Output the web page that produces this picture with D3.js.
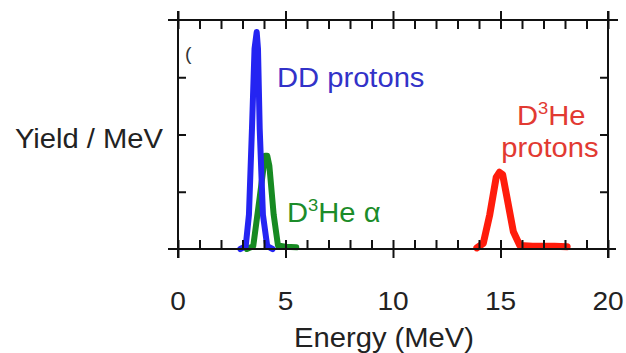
<!DOCTYPE html>
<html>
<head>
<meta charset="utf-8">
<script src="https://cdn.jsdelivr.net/npm/d3@7/dist/d3.min.js"></script>
<style>
  html, body { margin: 0; padding: 0; background: #fff; }
  svg text { font-family: "Liberation Sans", Arial, Helvetica, sans-serif; }
</style>
</head>
<body>
<svg id="chart" width="626" height="353"></svg>
<script>
// Energy spectra of fusion products
const ddEnergy   = [2.9, 3.15, 3.3, 3.44, 3.56, 3.66, 3.72, 3.8, 3.95, 4.15, 4.4];
const ddYield    = [0.0, 0.05, 0.6, 2.1, 3.5, 3.79, 3.5, 2.1, 0.6, 0.05, 0.0];

const alphaEnergy = [3.2, 3.5, 3.8, 4.05, 4.15, 4.25, 4.45, 4.65, 5.0, 5.5];
const alphaYield  = [0.0, 0.05, 0.9, 1.63, 1.63, 1.45, 0.6, 0.06, 0.04, 0.03];

const d3heEnergy = [13.9, 14.2, 14.5, 14.8, 14.95, 15.1, 15.3, 15.6, 15.9, 16.5, 17.0, 17.5, 18.1];
const d3heYield  = [0.02, 0.1, 0.6, 1.25, 1.34, 1.3, 0.9, 0.3, 0.06, 0.05, 0.05, 0.05, 0.04];

const xMajorTicks = [0, 5, 10, 15, 20];
const xMinorTicks = [1, 2, 3, 4, 6, 7, 8, 9, 11, 12, 13, 14, 16, 17, 18, 19];
const yTicks = [1, 2, 3];

const svg = d3.select("#chart");
const plotLeft = 178, plotRight = 608, plotTop = 20, plotBottom = 249;

const x = d3.scaleLinear().domain([0, 20]).range([plotLeft, plotRight]);
const y = d3.scaleLinear().domain([0, 4]).range([plotBottom, plotTop]);

const SX = 1.08; // horizontal stretch of lettering

function label(g, px, py, parts, opts) {
  const t = g.append("text")
    .attr("transform", `translate(${px},${py}) scale(${SX},1)`)
    .attr("font-size", opts.size || 27)
    .attr("fill", opts.color || "#222")
    .attr("text-anchor", opts.anchor || "start");
  let shift = 0;
  parts.forEach(p => {
    const ts = t.append("tspan").text(p.text);
    if (p.sup) {
      ts.attr("dy", -11).attr("font-size", 17);
      shift = 11;
    } else if (shift) {
      ts.attr("dy", shift);
      shift = 0;
    }
  });
  return t;
}

// curves
const line = d3.line().x(d => x(d[0])).y(d => y(d[1])).curve(d3.curveLinear);
const series = [
  { e: alphaEnergy, v: alphaYield, color: "#178a22", w: 6 },
  { e: ddEnergy,    v: ddYield,    color: "#2424f2", w: 6 },
  { e: d3heEnergy,  v: d3heYield,  color: "#ff1c0c", w: 7 }
];
series.forEach(s => {
  svg.append("path")
    .datum(s.e.map((e, i) => [e, s.v[i]]))
    .attr("d", line)
    .attr("fill", "none")
    .attr("stroke", s.color)
    .attr("stroke-width", s.w)
    .attr("stroke-linejoin", "round")
    .attr("stroke-linecap", "round");
});

// frame
const axisColor = "#111";
const frame = svg.append("g").attr("stroke", axisColor).attr("stroke-width", 2);
frame.append("line").attr("x1", plotLeft - 10).attr("x2", plotRight + 10).attr("y1", plotTop).attr("y2", plotTop);
frame.append("line").attr("x1", plotLeft - 10).attr("x2", plotRight + 8).attr("y1", plotBottom).attr("y2", plotBottom);
frame.append("line").attr("x1", plotLeft).attr("x2", plotLeft).attr("y1", plotTop - 9).attr("y2", plotBottom + 9);
frame.append("line").attr("x1", plotRight).attr("x2", plotRight).attr("y1", plotTop - 9).attr("y2", plotBottom + 9);

function styleAxis(g) {
  g.select(".domain").remove();
  g.selectAll(".tick line").attr("stroke", axisColor).attr("stroke-width", 2);
  g.selectAll(".tick text").remove();
}

// bottom: major ticks crossing, minor ticks inward
svg.append("g").attr("transform", `translate(0,${plotBottom})`)
  .call(d3.axisBottom(x).tickValues(xMajorTicks).tickSize(9)).call(styleAxis);
svg.append("g").attr("transform", `translate(0,${plotBottom})`)
  .call(d3.axisTop(x).tickValues(xMajorTicks.concat(xMinorTicks)).tickSize(9)).call(styleAxis);
// top
svg.append("g").attr("transform", `translate(0,${plotTop})`)
  .call(d3.axisTop(x).tickValues(xMajorTicks).tickSize(9)).call(styleAxis);
svg.append("g").attr("transform", `translate(0,${plotTop})`)
  .call(d3.axisBottom(x).tickValues(xMajorTicks.concat(xMinorTicks)).tickSize(9)).call(styleAxis);
// left / right inward ticks
svg.append("g").attr("transform", `translate(${plotLeft},0)`)
  .call(d3.axisRight(y).tickValues(yTicks).tickSize(8)).call(styleAxis);
svg.append("g").attr("transform", `translate(${plotRight},0)`)
  .call(d3.axisLeft(y).tickValues(yTicks).tickSize(8)).call(styleAxis);

// tick labels
const labels = svg.append("g");
xMajorTicks.forEach(v => {
  label(labels, x(v), 310, [{ text: String(v) }], { anchor: "middle", size: 26 });
});

// axis titles
label(labels, 384, 347, [{ text: "Energy (MeV)" }], { anchor: "middle" });
label(labels, 15, 148, [{ text: "Yield / MeV" }], {});
label(labels, 185, 60, [{ text: "(" }], { size: 18, color: "#333" });

// series labels
label(labels, 277, 87, [{ text: "DD protons" }], { color: "#3232c8" });
label(labels, 287, 222, [{ text: "D" }, { text: "3", sup: true }, { text: "He \u03b1" }], { color: "#1c8c2a" });
label(labels, 517, 125, [{ text: "D" }, { text: "3", sup: true }, { text: "He" }], { color: "#e23a32" });
label(labels, 550, 157, [{ text: "protons" }], { color: "#e23a32", anchor: "middle" });
</script>
</body>
</html>
